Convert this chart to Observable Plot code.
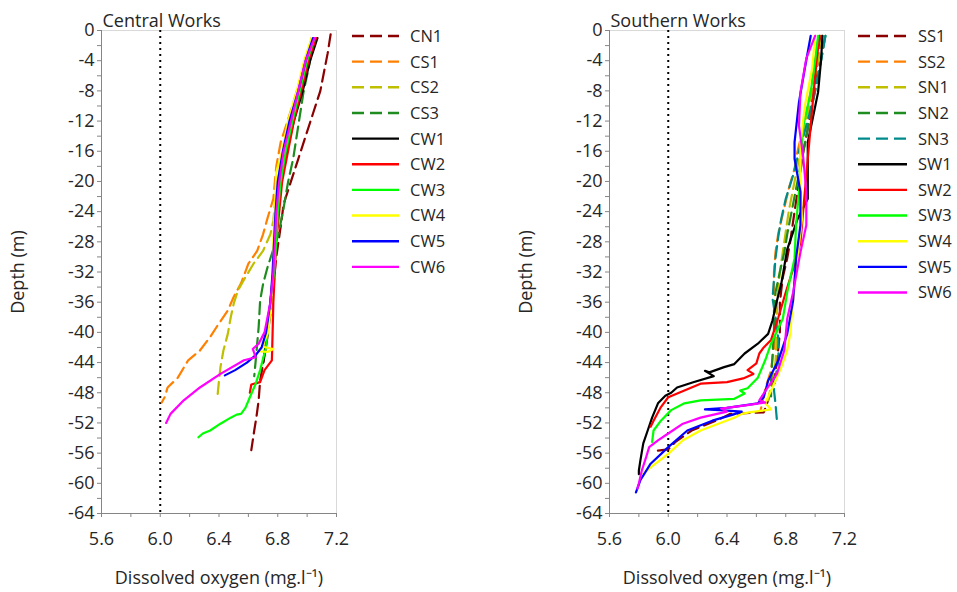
<!DOCTYPE html>
<html><head><meta charset="utf-8">
<script src="https://cdn.jsdelivr.net/npm/d3@7"></script>
<script src="https://cdn.jsdelivr.net/npm/@observablehq/plot@0.6"></script>
<style>
body{margin:0;background:#fff;font-family:"Open Sans",sans-serif;}
#wrap{position:relative;width:957px;height:592px;overflow:hidden;background:#fff}
</style></head><body><div id="wrap"></div>
<script>
// ---- axis ticks ----
const xTicks = [5.6, 5.8, 6.0, 6.2, 6.4, 6.6, 6.8, 7.0, 7.2];
const xLabels = [5.6, 6.0, 6.4, 6.8, 7.2];
const yTicks = [0,-2,-4,-6,-8,-10,-12,-14,-16,-18,-20,-22,-24,-26,-28,-30,-32,-34,-36,-38,-40,-42,-44,-46,-48,-50,-52,-54,-56,-58,-60,-62,-64];
const yLabels = [0,-4,-8,-12,-16,-20,-24,-28,-32,-36,-40,-44,-48,-52,-56,-60,-64];
const thresholdDO = [6.0];

// ---- Central Works series: [depth (m), dissolved oxygen (mg/l)] ----
const centralNames = ["CN1","CS1","CS2","CS3","CW1","CW2","CW3","CW4","CW5","CW6"];
const centralColors = ["#8B0000","#FF8000","#BFBF00","#1E8C1E","#000000","#FF0000","#00FF00","#FFFF00","#0000FF","#FF00FF"];
const centralDashed = [true,true,true,true,false,false,false,false,false,false];
const CN1 = [[-0.5,7.16],[-3,7.14],[-5,7.12],[-8,7.09],[-11,7.04],[-14,6.99],[-17,6.94],[-20,6.89],[-23,6.84],[-26,6.82],[-30,6.79],[-34,6.77],[-37.5,6.75],[-42,6.72],[-46.4,6.68],[-49,6.67],[-51.2,6.655],[-53,6.64],[-55.6,6.62]];
const CS1 = [[-1,7.03],[-4,7.0],[-6,6.96],[-10,6.9],[-14.8,6.82],[-18,6.79],[-22.3,6.77],[-24.9,6.73],[-27,6.7],[-29.2,6.66],[-30.9,6.6],[-33.5,6.55],[-35.3,6.5],[-37.1,6.46],[-38.8,6.4],[-40.6,6.34],[-42.4,6.27],[-43.7,6.19],[-46,6.12],[-47.3,6.05],[-48.6,6.03],[-49.3,6.01]];
const CS2 = [[-1,7.04],[-4,6.99],[-8,6.94],[-12,6.88],[-16,6.84],[-20,6.8],[-23,6.78],[-25.2,6.77],[-27,6.75],[-29.2,6.7],[-30.9,6.635],[-32.7,6.58],[-34.4,6.53],[-36.2,6.5],[-38,6.48],[-40.2,6.46],[-42.4,6.43],[-44.6,6.41],[-46.4,6.4],[-48.4,6.39]];
const CS3 = [[-1,7.05],[-5,7.01],[-8.2,6.975],[-12.6,6.94],[-17,6.905],[-20.1,6.87],[-23.5,6.84],[-27,6.805],[-29,6.77],[-31.4,6.73],[-33.6,6.7],[-35.8,6.68],[-39.3,6.67],[-41.5,6.66],[-43.7,6.65],[-45.8,6.64]];
const CW1 = [[-1,7.07],[-4,7.02],[-8,6.97],[-12,6.91],[-16,6.86],[-20,6.82],[-24,6.8],[-28,6.78],[-32,6.77],[-36,6.75],[-40,6.73],[-44,6.7]];
const CW2 = [[-1,7.06],[-4,7.01],[-8,6.96],[-12,6.91],[-16,6.87],[-20,6.83],[-24,6.81],[-28,6.79],[-32,6.78],[-36,6.77],[-40,6.765],[-43.7,6.76],[-45,6.71],[-46.6,6.68],[-46.9,6.62],[-48,6.61]];
const CW3 = [[-1,7.05],[-4,7.0],[-8,6.95],[-12,6.9],[-16,6.855],[-20,6.82],[-24,6.8],[-28,6.79],[-32,6.775],[-35,6.755],[-38.5,6.74],[-42,6.72],[-45,6.68],[-46.8,6.65],[-48.6,6.61],[-50,6.58],[-50.8,6.55],[-50.9,6.52],[-51.3,6.48],[-52.1,6.41],[-53,6.34],[-53.4,6.29],[-53.9,6.26]];
const CW4 = [[-1,7.03],[-4,6.98],[-8,6.93],[-12,6.87],[-16,6.83],[-18.8,6.79],[-21.9,6.785],[-24,6.78],[-28,6.77],[-32,6.765],[-36,6.755],[-40,6.735],[-41.1,6.71],[-41.9,6.7],[-42.2,6.77],[-42.6,6.73],[-42.5,6.67]];
const CW5 = [[-1,7.04],[-4,6.99],[-8,6.94],[-12,6.88],[-16,6.835],[-20,6.8],[-24,6.785],[-28,6.775],[-32,6.765],[-36,6.75],[-40,6.72],[-42,6.69],[-43,6.65],[-44,6.59],[-45,6.51],[-45.7,6.44]];
const CW6 = [[-1,7.05],[-4,6.99],[-8,6.94],[-12,6.89],[-16,6.84],[-20,6.81],[-24,6.79],[-28,6.78],[-32,6.77],[-36,6.75],[-40,6.71],[-41.5,6.67],[-42.2,6.63],[-43.3,6.65],[-43.7,6.57],[-45.5,6.41],[-47.3,6.27],[-49,6.16],[-50.8,6.07],[-52,6.04]];
const centralSeries = [CN1,CS1,CS2,CS3,CW1,CW2,CW3,CW4,CW5,CW6];

// ---- Southern Works series ----
const southNames = ["SS1","SS2","SN1","SN2","SN3","SW1","SW2","SW3","SW4","SW5","SW6"];
const southColors = ["#8B0000","#FF8000","#BFBF00","#1E8C1E","#008B8B","#000000","#FF0000","#00FF00","#FFFF00","#0000FF","#FF00FF"];
const southDashed = [true,true,true,true,true,false,false,false,false,false,false];
const SS1 = [[-0.7,7.04],[-4,7.02],[-8,6.99],[-12,6.96],[-16,6.92],[-20,6.89],[-24,6.86],[-28,6.83],[-30.2,6.81],[-32.7,6.78],[-36,6.76],[-40,6.76],[-44,6.74],[-47,6.71],[-49,6.68],[-50.6,6.65],[-50.8,6.42],[-51.5,6.35],[-53,6.16],[-54.5,6.05],[-55.5,6.0],[-55.7,5.92]];
const SS2 = [[-0.7,7.03],[-4,7.0],[-8,6.97],[-12,6.93],[-16,6.88],[-18.3,6.86],[-21,6.82],[-23.5,6.79],[-26.8,6.75],[-29.4,6.73],[-32,6.72],[-34,6.72],[-38,6.74],[-42,6.72],[-45,6.7],[-47.5,6.66],[-49.4,6.64],[-50.2,6.63]];
const SN1 = [[-0.7,7.05],[-4,7.02],[-8,6.98],[-12,6.94],[-16,6.9],[-20,6.86],[-24,6.82],[-28,6.79],[-32,6.76],[-36,6.74],[-40,6.74],[-44,6.73],[-47,6.7],[-49,6.68]];
const SN2 = [[-0.7,7.07],[-4,7.04],[-8,7.0],[-12,6.96],[-16,6.92],[-20,6.88],[-24,6.84],[-27,6.81],[-29.4,6.79],[-32,6.76],[-34.7,6.73],[-37.1,6.72],[-40,6.72],[-43,6.71],[-46.4,6.7],[-48.5,6.7]];
const SN3 = [[-0.7,7.07],[-4,7.04],[-8,7.0],[-12,6.95],[-16,6.89],[-19.2,6.85],[-22.3,6.8],[-24.9,6.77],[-27.2,6.75],[-30.2,6.73],[-32.9,6.72],[-35.5,6.71],[-38,6.73],[-41,6.75],[-43.7,6.75],[-46,6.73],[-47.7,6.72],[-49.4,6.73],[-51.7,6.74],[-52,6.74]];
const SW1 = [[-0.7,7.05],[-4,7.04],[-8.2,7.02],[-12,6.98],[-14.8,6.95],[-18,6.95],[-22.3,6.95],[-25,6.88],[-29,6.81],[-33.5,6.77],[-35.8,6.74],[-38.4,6.71],[-40.2,6.68],[-41.5,6.61],[-42.8,6.52],[-44.2,6.45],[-44.6,6.38],[-45.3,6.28],[-45.1,6.25],[-45.8,6.31],[-46.6,6.17],[-47.3,6.06],[-48,6.02],[-48.4,5.98],[-49.4,5.93],[-51.3,5.89],[-53,5.86],[-54.7,5.83],[-57,5.81],[-58.3,5.8],[-58.8,5.8]];
const SW2 = [[-0.7,7.03],[-4,7.01],[-8.2,6.99],[-14.8,6.96],[-19.2,6.94],[-23.6,6.92],[-28.1,6.9],[-31,6.86],[-34.7,6.8],[-38,6.75],[-41,6.7],[-42,6.65],[-42.8,6.62],[-44.1,6.6],[-45,6.54],[-45.5,6.58],[-46.1,6.51],[-46.6,6.4],[-46.8,6.22],[-47.7,6.11],[-48.6,6.0],[-49.9,5.95],[-51.7,5.9],[-52.5,5.88]];
const SW3 = [[-0.7,7.02],[-4,7.0],[-8.2,6.97],[-12.6,6.92],[-17,6.9],[-21.4,6.89],[-25.8,6.87],[-30.2,6.86],[-34.7,6.81],[-38.2,6.78],[-41.5,6.7],[-43.7,6.66],[-46,6.61],[-47.4,6.54],[-47.7,6.49],[-48.1,6.52],[-48.8,6.45],[-49,6.22],[-49.4,6.11],[-50.3,6.02],[-51.7,5.95],[-53,5.9],[-54.5,5.89]];
const SW4 = [[-0.7,7.0],[-5,6.98],[-10,6.93],[-15,6.9],[-20,6.9],[-25,6.91],[-30,6.88],[-35.8,6.85],[-40.2,6.83],[-42.4,6.81],[-44.6,6.77],[-47.3,6.71],[-49.4,6.66],[-50.2,6.7],[-50.6,6.55],[-50.8,6.5],[-51.3,6.45],[-53,6.22],[-54.3,6.1],[-56.1,6.0],[-57.9,5.88],[-58.7,5.83]];
const SW5 = [[-0.7,6.97],[-5,6.93],[-9.5,6.89],[-14.8,6.86],[-17,6.86],[-19.2,6.88],[-21.4,6.9],[-25.8,6.9],[-30.2,6.87],[-35.8,6.85],[-40.2,6.81],[-43.7,6.75],[-46.4,6.68],[-48.6,6.65],[-49.4,6.61],[-50,6.4],[-50.2,6.25],[-50.3,6.35],[-50.5,6.5],[-50.9,6.44],[-51.7,6.3],[-53,6.13],[-55.2,6.0],[-57.4,5.88],[-59.6,5.81],[-61.2,5.78]];
const SW6 = [[-0.7,7.0],[-3.7,6.94],[-8.2,6.9],[-12.6,6.89],[-17,6.92],[-21.4,6.94],[-25.8,6.94],[-29.4,6.9],[-34.7,6.85],[-38.2,6.81],[-42.4,6.79],[-45.5,6.74],[-48.1,6.65],[-49,6.62],[-49.3,6.66],[-49.6,6.55],[-50.1,6.36],[-50.5,6.4],[-51.3,6.22],[-52.1,6.1],[-53.4,6.0],[-54.3,5.93],[-55.2,5.87],[-56.5,5.85],[-58.3,5.82],[-60,5.8],[-60.7,5.79]];
const southSeries = [SS1,SS2,SN1,SN2,SN3,SW1,SW2,SW3,SW4,SW5,SW6];

const FONT = "Open Sans";
const TEXT = "#262626";
const AXIS = "#868686";

function panel(title, names, colors, dashed, series) {
  const lines = names.map((n, i) => {
    const data = series[i].map(([depth, v]) => ({series: n, depth, v}));
    const opts = {x: "v", y: "depth", stroke: colors[i], strokeWidth: 2.2, strokeLinejoin: "round"};
    if (dashed[i]) opts.strokeDasharray = "12,6";
    return Plot.line(data, opts);
  });
  return Plot.plot({
    width: 356, height: 592,
    marginLeft: 101, marginRight: 20, marginTop: 30, marginBottom: 79,
    style: {fontFamily: FONT, fontSize: "18px", background: "transparent", color: TEXT},
    x: {domain: [5.6, 7.2]},
    y: {domain: [-64, 0]},
    marks: [
      Plot.frame({stroke: "#d9d9d9"}),
      Plot.ruleX(thresholdDO, {stroke: "#000", strokeWidth: 2, strokeDasharray: "2,4"}),
      ...lines,
      Plot.ruleX([xTicks[0]], {stroke: AXIS}),
      Plot.ruleY([yTicks[yTicks.length - 1]], {stroke: AXIS}),
      Plot.axisY({ticks: yTicks, tickFormat: d => yLabels.includes(d) ? String(d) : "",
        tickSize: 4, tickPadding: 3, stroke: AXIS, fill: TEXT, fontSize: 18,
        label: "Depth (m)", labelAnchor: "center", labelOffset: 90, labelArrow: "none"}),
      Plot.axisX({ticks: xTicks, tickFormat: d => xLabels.includes(d) ? d.toFixed(1) : "",
        tickSize: 4, tickPadding: 15, stroke: AXIS, fill: TEXT, fontSize: 18,
        label: "Dissolved oxygen (mg.l⁻¹)", labelAnchor: "center", labelOffset: 70, labelArrow: "none"}),
      Plot.text([title], {frameAnchor: "top-left", textAnchor: "start", lineAnchor: "bottom", dx: 1, dy: -4, fontSize: 18, fill: TEXT})
    ]
  });
}

function legend(names, colors, dashed, left, lineLen, textX) {
  const svg = d3.create("svg").attr("width", 110).attr("height", 320)
    .style("position", "absolute").style("left", left + "px").style("top", "0px")
    .style("font-family", FONT);
  names.forEach((n, i) => {
    const y = 36 + i * 25.65;
    const ln = svg.append("line").attr("x1", 7).attr("x2", 7 + lineLen).attr("y1", y).attr("y2", y)
      .attr("stroke", colors[i]).attr("stroke-width", 2.4);
    if (dashed[i]) ln.attr("stroke-dasharray", "12,6");
    svg.append("text").attr("x", textX).attr("y", y).attr("dy", "0.36em")
      .attr("font-size", 16.5).attr("fill", TEXT).text(n);
  });
  return svg.node();
}

const wrap = document.getElementById("wrap");
const p1 = panel("Central Works", centralNames, centralColors, centralDashed, centralSeries);
p1.style.position = "absolute"; p1.style.left = "0px"; p1.style.top = "0px";
wrap.appendChild(p1);
wrap.appendChild(legend(centralNames, centralColors, centralDashed, 345, 47, 65));
const p2 = panel("Southern Works", southNames, southColors, southDashed, southSeries);
p2.style.position = "absolute"; p2.style.left = "508px"; p2.style.top = "0px";
wrap.appendChild(p2);
wrap.appendChild(legend(southNames, southColors, southDashed, 851, 49, 67));
</script></body></html>
